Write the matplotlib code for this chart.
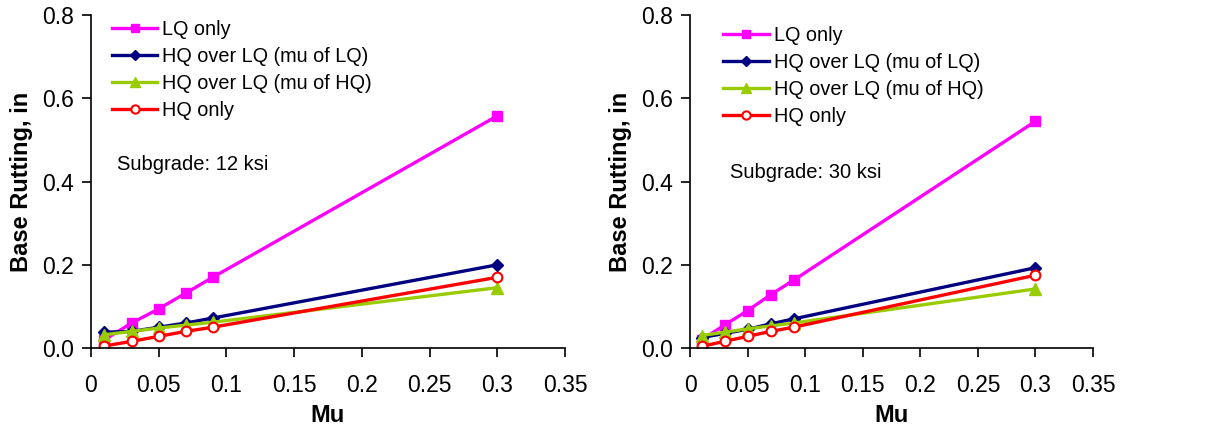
import matplotlib
matplotlib.use("Agg")
import matplotlib.pyplot as plt
from matplotlib.ticker import FuncFormatter

plt.rcParams['font.family'] = ['Liberation Sans', 'DejaVu Sans']

mu = [0.01, 0.03, 0.05, 0.07, 0.09, 0.3]

# Subgrade 12 ksi
lq_12 = [0.020, 0.060, 0.094, 0.132, 0.170, 0.558]
hq_lq_mulq_12 = [0.038, 0.040, 0.050, 0.060, 0.072, 0.200]
hq_lq_muhq_12 = [0.032, 0.040, 0.048, 0.055, 0.062, 0.145]
hq_12 = [0.005, 0.016, 0.028, 0.040, 0.050, 0.170]

# Subgrade 30 ksi
lq_30 = [0.020, 0.055, 0.090, 0.128, 0.163, 0.545]
hq_lq_mulq_30 = [0.025, 0.035, 0.045, 0.058, 0.070, 0.193]
hq_lq_muhq_30 = [0.030, 0.038, 0.046, 0.053, 0.060, 0.142]
hq_30 = [0.004, 0.016, 0.028, 0.040, 0.050, 0.175]

labels = ["LQ only", "HQ over LQ (mu of LQ)", "HQ over LQ (mu of HQ)", "HQ only"]
subgrades = ["Subgrade: 12 ksi", "Subgrade: 30 ksi"]
x_ticks = [0, 0.05, 0.1, 0.15, 0.2, 0.25, 0.3, 0.35]
y_ticks = [0.0, 0.2, 0.4, 0.6, 0.8]

fig = plt.figure(figsize=(12.11, 4.32), dpi=100)
ax1 = fig.add_axes([0.0751, 0.1944, 0.3915, 0.7706])
ax2 = fig.add_axes([0.5698, 0.1944, 0.3328, 0.7706])

# axes, series, note, note position, legend anchor
panels = [
    (ax1, [lq_12, hq_lq_mulq_12, hq_lq_muhq_12, hq_12], subgrades[0], (0.055, 0.55), (0.044, 0.985)),
    (ax2, [lq_30, hq_lq_mulq_30, hq_lq_muhq_30, hq_30], subgrades[1], (0.099, 0.528), (0.082, 0.968)),
]

styles = [
    dict(color="#FF00FF", marker="s", ms=7, mfc="#FF00FF", mec="#FF00FF"),
    dict(color="#000080", marker="D", ms=6, mfc="#000080", mec="#000080"),
    dict(color="#99CC00", marker="^", ms=8, mfc="#99CC00", mec="#99CC00"),
    dict(color="#FF0000", marker="o", ms=7, mfc="white", mec="#FF0000", mew=1.5),
]

for ax, series, note, npos, lpos in panels:
    for ys, lab, st in zip(series, labels, styles):
        ax.plot(mu, ys, lw=2.4, label=lab, **st)
    ax.set_xlim(0, 0.35)
    ax.set_ylim(0, 0.8)
    ax.set_xticks(x_ticks)
    ax.set_yticks(y_ticks)
    ax.xaxis.set_major_formatter(FuncFormatter(lambda v, p: "%g" % round(v, 2)))
    ax.yaxis.set_major_formatter(FuncFormatter(lambda v, p: "%.1f" % v))
    ax.spines["top"].set_visible(False)
    ax.spines["right"].set_visible(False)
    ax.spines["left"].set_linewidth(1.2)
    ax.spines["bottom"].set_linewidth(1.2)
    ax.tick_params(axis="both", direction="out", length=6.5, width=1.2, labelsize=16.5)
    ax.tick_params(axis="x", pad=12)
    ax.tick_params(axis="y", pad=6)
    ax.set_xlabel("Mu", fontsize=17, fontweight="bold", labelpad=5)
    ax.set_ylabel("Base Rutting, in", fontsize=17, fontweight="bold", labelpad=6)
    ax.text(npos[0], npos[1], note, transform=ax.transAxes, fontsize=14.5, va="center")
    ax.legend(loc="upper left", bbox_to_anchor=lpos, frameon=False,
              borderaxespad=0, borderpad=0,
              fontsize=14.3, handlelength=2.3, handletextpad=0.25,
              labelspacing=0.4, markerscale=0.85)

fig.savefig("out.png", dpi=100)
